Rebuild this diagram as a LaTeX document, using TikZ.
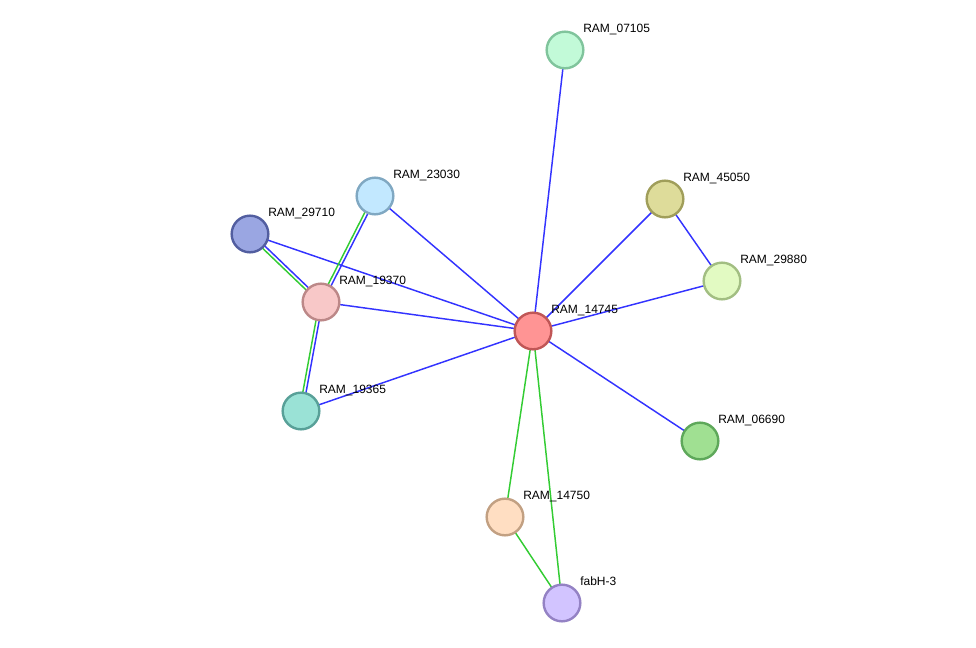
\documentclass[tikz,border=0pt]{standalone}
\usepackage{fontspec}
\setmainfont{Liberation Sans}
\usetikzlibrary{calc,backgrounds}
\definecolor{edgeblue}{HTML}{3333FF}
\definecolor{edgegreen}{HTML}{33CC33}
\definecolor{f07105}{HTML}{C2FAD8}\definecolor{d07105}{HTML}{80C49C}
\definecolor{f45050}{HTML}{DEDC9A}\definecolor{d45050}{HTML}{A09E5A}
\definecolor{f29880}{HTML}{E2FAC2}\definecolor{d29880}{HTML}{A2BE82}
\definecolor{f14745}{HTML}{FF9494}\definecolor{d14745}{HTML}{C05656}
\definecolor{f06690}{HTML}{A0E092}\definecolor{d06690}{HTML}{5EA85A}
\definecolor{f14750}{HTML}{FFDEC2}\definecolor{d14750}{HTML}{C2A082}
\definecolor{ffabh}{HTML}{D2C4FF}\definecolor{dfabh}{HTML}{9482C4}
\definecolor{f19365}{HTML}{9AE2D6}\definecolor{d19365}{HTML}{58A098}
\definecolor{f19370}{HTML}{F8C8C8}\definecolor{d19370}{HTML}{BC8888}
\definecolor{f29710}{HTML}{9AA6E2}\definecolor{d29710}{HTML}{525EA0}
\definecolor{f23030}{HTML}{C2E8FF}\definecolor{d23030}{HTML}{80A8C2}

\begin{document}
\begin{tikzpicture}[x=0.75pt,y=-0.75pt,
  prot/.style={circle,draw,line width=1.8pt,minimum size=27.5pt,inner sep=0pt},
  lbl/.style={anchor=base west,inner sep=0pt,font=\fontsize{9}{10}\selectfont},
  blu/.style={draw=edgeblue,line width=1.1pt},
  grn/.style={draw=edgegreen,line width=1.1pt}]
\useasboundingbox (0,0) rectangle (976,648);
\node[prot,fill=f07105,draw=d07105] (n07105) at (565,50) {};
\node[prot,fill=f45050,draw=d45050] (n45050) at (665,199) {};
\node[prot,fill=f29880,draw=d29880] (n29880) at (722,281) {};
\node[prot,fill=f14745,draw=d14745] (n14745) at (533,331) {};
\node[prot,fill=f06690,draw=d06690] (n06690) at (700,441) {};
\node[prot,fill=f14750,draw=d14750] (n14750) at (505,517) {};
\node[prot,fill=ffabh,draw=dfabh] (nfabh) at (562,603) {};
\node[prot,fill=f19365,draw=d19365] (n19365) at (301,411) {};
\node[prot,fill=f19370,draw=d19370] (n19370) at (321,302) {};
\node[prot,fill=f29710,draw=d29710] (n29710) at (250,234) {};
\node[prot,fill=f23030,draw=d23030] (n23030) at (375,196) {};
\node[lbl] (l07105) at ([shift={(18,-17)}]n07105.center) {RAM\_07105};
\node[lbl] (l45050) at ([shift={(18,-17)}]n45050.center) {RAM\_45050};
\node[lbl] (l29880) at ([shift={(18,-17)}]n29880.center) {RAM\_29880};
\node[lbl] (l14745) at ([shift={(18,-17)}]n14745.center) {RAM\_14745};
\node[lbl] (l06690) at ([shift={(18,-17)}]n06690.center) {RAM\_06690};
\node[lbl] (l14750) at ([shift={(18,-17)}]n14750.center) {RAM\_14750};
\node[lbl] (lfabh) at ([shift={(18,-17)}]nfabh.center) {fabH-3};
\node[lbl] (l19365) at ([shift={(18,-17)}]n19365.center) {RAM\_19365};
\node[lbl] (l19370) at ([shift={(18,-17)}]n19370.center) {RAM\_19370};
\node[lbl] (l29710) at ([shift={(18,-17)}]n29710.center) {RAM\_29710};
\node[lbl] (l23030) at ([shift={(18,-17)}]n23030.center) {RAM\_23030};
\begin{scope}[on background layer]
\draw[blu] (n14745.center) -- (n07105.center);
\draw[blu] (n14745.center) -- (n45050.center);
\draw[blu] (n14745.center) -- (n29880.center);
\draw[blu] (n45050.center) -- (n29880.center);
\draw[blu] (n14745.center) -- (n06690.center);
\draw[grn] (n14745.center) -- (n14750.center);
\draw[grn] (n14745.center) -- (nfabh.center);
\draw[grn] (n14750.center) -- (nfabh.center);
\draw[blu] (n14745.center) -- (n19365.center);
\draw[blu] (n14745.center) -- (n19370.center);
\draw[blu] (n14745.center) -- (n29710.center);
\draw[blu] (n14745.center) -- (n23030.center);
\draw[grn] ($(n29710.center)!1.2pt!-90:(n19370.center)$) -- ($(n19370.center)!1.2pt!90:(n29710.center)$);
\draw[blu] ($(n29710.center)!1.2pt!90:(n19370.center)$) -- ($(n19370.center)!1.2pt!-90:(n29710.center)$);
\draw[grn] ($(n23030.center)!1.2pt!-90:(n19370.center)$) -- ($(n19370.center)!1.2pt!90:(n23030.center)$);
\draw[blu] ($(n23030.center)!1.2pt!90:(n19370.center)$) -- ($(n19370.center)!1.2pt!-90:(n23030.center)$);
\draw[grn] ($(n19370.center)!1.2pt!-90:(n19365.center)$) -- ($(n19365.center)!1.2pt!90:(n19370.center)$);
\draw[blu] ($(n19370.center)!1.2pt!90:(n19365.center)$) -- ($(n19365.center)!1.2pt!-90:(n19370.center)$);
\end{scope}
\end{tikzpicture}
\end{document}
